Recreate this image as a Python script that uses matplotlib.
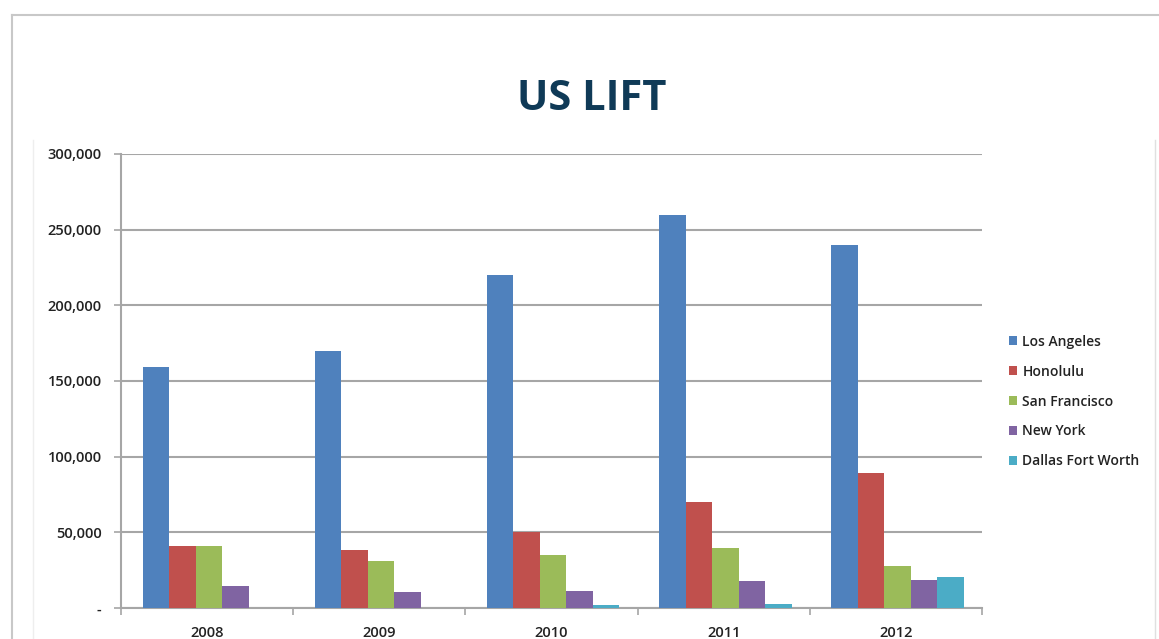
import matplotlib
matplotlib.use("Agg")
import matplotlib.pyplot as plt
import numpy as np
from matplotlib.lines import Line2D
from matplotlib.ticker import FuncFormatter

years = ["2008", "2009", "2010", "2011", "2012"]
series_names = ["Los Angeles", "Honolulu", "San Francisco", "New York", "Dallas Fort Worth"]
los_angeles = [159000, 170000, 220000, 260000, 240000]
honolulu = [41000, 38500, 50000, 70000, 89000]
san_francisco = [41000, 30800, 34800, 39500, 28000]
new_york = [14800, 10700, 11300, 17800, 18500]
dallas_fort_worth = [0, 0, 1800, 2400, 20500]
colors = ["#4F81BD", "#C0504D", "#9BBB59", "#8064A2", "#4BACC6"]
yticks = [0, 50000, 100000, 150000, 200000, 250000, 300000]

plt.rcParams['font.family'] = ['Open Sans', 'DejaVu Sans']

fig = plt.figure(figsize=(11.59, 6.39), dpi=100)
W, H = 1159, 639

# outer frames
fig.add_artist(Line2D([12/W, 12/W], [0, 1-15/H], color="#c8c8c8", lw=1.5, transform=fig.transFigure))
fig.add_artist(Line2D([12/W, 1], [1-15/H, 1-15/H], color="#c8c8c8", lw=1.5, transform=fig.transFigure))
fig.add_artist(Line2D([33/W, 33/W], [0, 1-140/H], color="#eeeeee", lw=1, transform=fig.transFigure))
fig.add_artist(Line2D([1155/W, 1155/W], [0, 1-140/H], color="#e0e0e0", lw=1, transform=fig.transFigure))

fig.text(592/W, 1-100/H, "US LIFT", ha="center", va="center", fontsize=30,
         fontweight="bold", color="#0f3a57")

ax = fig.add_axes([121/W, 31/H, 861/W, 454/H])
data = [los_angeles, honolulu, san_francisco, new_york, dallas_fort_worth]
x = np.arange(len(years))
bw = 1/6.5
for i, (vals, c, name) in enumerate(zip(data, colors, series_names)):
    ax.bar(x - 2.5*bw + bw/2 + i*bw + 0.01, vals, width=bw, color=c, label=name, zorder=3, linewidth=0)

ax.set_xlim(-0.5, len(years)-0.5)
ax.set_ylim(0, 300000)
ax.set_yticks(yticks)
ax.yaxis.set_major_formatter(FuncFormatter(lambda v, p: "-" if v == 0 else f"{int(v):,}"))
ax.grid(axis="y", color="#a6a6a6", lw=1.5, zorder=0)
for s in ["top", "right"]:
    ax.spines[s].set_visible(False)
for s in ["left", "bottom"]:
    ax.spines[s].set_color("#a6a6a6")
    ax.spines[s].set_linewidth(1.5)
ax.set_xticks(x)
ax.set_xticklabels(years)
ax.set_xticks(np.arange(-0.5, len(years)), minor=True)
ax.tick_params(axis="x", which="major", length=0, pad=13, labelsize=10.5, labelcolor="#222222")
ax.tick_params(axis="x", which="minor", length=5, color="#a6a6a6", width=1.2, direction="out")
ax.tick_params(axis="y", length=5, color="#a6a6a6", width=1.2, labelsize=10.5, labelcolor="#222222", pad=9)
for lab in ax.get_xticklabels() + ax.get_yticklabels():
    lab.set_fontweight("semibold")

leg = fig.legend(loc="upper left", bbox_to_anchor=(1003/W, 1-329/H), frameon=False,
                 prop={"size": 10, "weight": "semibold"}, handlelength=0.6, handleheight=0.6,
                 handletextpad=0.4, labelspacing=1.15, borderaxespad=0)
for t in leg.get_texts():
    t.set_color("#222222")

fig.savefig("out.png", dpi=100)
